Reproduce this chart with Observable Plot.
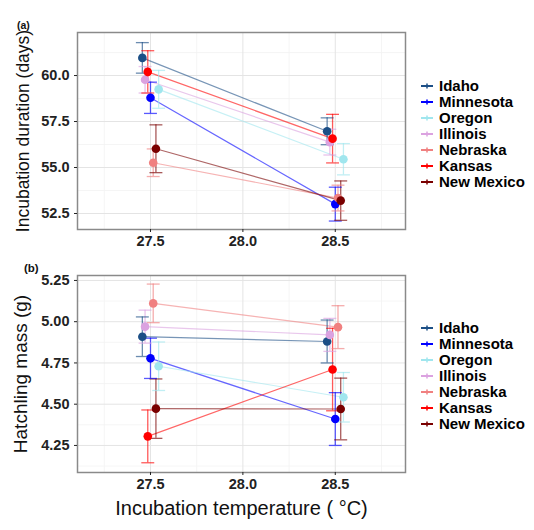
<!DOCTYPE html>
<html><head><meta charset="utf-8">
<script src="https://cdn.jsdelivr.net/npm/d3@7"></script>
<script src="https://cdn.jsdelivr.net/npm/@observablehq/plot@0.6"></script>
<style>
body{margin:0;background:#fff;font-family:Arial,"Liberation Sans",sans-serif;}
#wrap{position:relative;width:534px;height:530px;overflow:hidden;background:#fff}
.panel{position:absolute;left:0}
.item{position:absolute;left:421px;white-space:nowrap;display:flex;align-items:center;font-weight:bold;font-size:15px;color:#000;line-height:16px;transform:translateY(-50%)}
.item svg{margin-right:6px}
.tag{position:absolute;font-weight:bold;color:#111;transform:translateY(-50%)}
</style></head><body><div id="wrap"></div>
<script>
const states = ["Idaho","Minnesota","Oregon","Illinois","Nebraska","Kansas","New Mexico"];
const colors = ["#1c4f86","#0000ff","#a0e6ee","#dba2e0","#f08080","#ff0000","#7a0000"];
const temps = [27.5, 28.5];
// dodge order (alphabetical as in ggplot position_dodge)
const dodgeOrder = ["Idaho","Illinois","Kansas","Minnesota","Nebraska","New Mexico","Oregon"];

// (a) incubation duration (days): mean and error at 27.5 and 28.5
const durMean27 = [60.96, 58.79, 59.25, 59.77, 55.26, 60.20, 56.02];
const durErr27  = [0.83, 0.85, 1.03, 0.72, 0.75, 1.15, 1.30];
const durMean28 = [56.97, 53.01, 55.45, 56.38, 53.34, 56.57, 53.20];
const durErr28  = [0.73, 0.92, 0.85, 0.70, 0.70, 1.32, 1.07];

// (b) hatchling mass (g)
const massMean27 = [4.909, 4.778, 4.730, 4.970, 5.111, 4.305, 4.473];
const massErr27  = [0.120, 0.122, 0.147, 0.100, 0.117, 0.160, 0.180];
const massMean28 = [4.880, 4.410, 4.542, 4.920, 4.967, 4.710, 4.471];
const massErr28  = [0.130, 0.160, 0.150, 0.100, 0.130, 0.250, 0.187];

const xTicks = [27.5, 28.0, 28.5];
const xMinor = [27.25, 27.75, 28.25, 28.75];
const durTicks = [52.5, 55.0, 57.5, 60.0];
const durMinor = [53.75, 56.25, 58.75, 61.25];
const massTicks = [4.25, 4.50, 4.75, 5.00, 5.25];
const massMinor = [4.125, 4.375, 4.625, 4.875, 5.125];

const dodgeWidth = 0.0147;
const capHalf = 0.035;

function buildRows(m27, e27, m28, e28) {
  const rows = [];
  states.forEach((s, i) => {
    const off = (dodgeOrder.indexOf(s) - 3) * dodgeWidth;
    rows.push({state: s, x: temps[0] + off, y: m27[i], lo: m27[i] - e27[i], hi: m27[i] + e27[i]});
    rows.push({state: s, x: temps[1] + off, y: m28[i], lo: m28[i] - e28[i], hi: m28[i] + e28[i]});
  });
  return rows;
}

function panel({rows, yDomain, yTicks, yMinor, fmt, ylabel, ylabelSize, ylabelDx, height, mt, mb, xTitle}) {
  const marks = [
    Plot.gridX(xMinor, {stroke: "#f3f3f3", strokeOpacity: 1, strokeWidth: 0.8}),
    Plot.gridY(yMinor, {stroke: "#f3f3f3", strokeOpacity: 1, strokeWidth: 0.8}),
    Plot.gridX(xTicks, {stroke: "#e4e4e4", strokeOpacity: 1, strokeWidth: 1}),
    Plot.gridY(yTicks, {stroke: "#e4e4e4", strokeOpacity: 1, strokeWidth: 1}),
    Plot.line(rows, {x: "x", y: "y", z: "state", stroke: "state", strokeOpacity: 0.6, strokeWidth: 1.2}),
    Plot.ruleX(rows, {x: "x", y1: "lo", y2: "hi", stroke: "state", strokeOpacity: 0.65, strokeWidth: 1.3}),
    Plot.link(rows, {x1: d => d.x - capHalf, x2: d => d.x + capHalf, y1: "hi", y2: "hi", stroke: "state", strokeOpacity: 0.65, strokeWidth: 1.3}),
    Plot.link(rows, {x1: d => d.x - capHalf, x2: d => d.x + capHalf, y1: "lo", y2: "lo", stroke: "state", strokeOpacity: 0.65, strokeWidth: 1.3}),
    Plot.dot(rows, {x: "x", y: "y", fill: "state", r: 4.3}),
    Plot.frame({stroke: "#8a8a8a", strokeWidth: 1.5}),
    Plot.axisX(xTicks, {tickSize: 3, tickPadding: 3, tickFormat: d3.format(".1f"), fontWeight: "bold", fontSize: 14.5, color: "#222", label: null}),
    Plot.axisY(yTicks, {tickSize: 3, tickPadding: 5, tickFormat: fmt, fontWeight: "bold", fontSize: 14.5, color: "#222", label: null}),
    Plot.text([ylabel], {text: d => d, frameAnchor: "left", textAnchor: "middle", lineAnchor: "middle", dx: ylabelDx, rotate: -90, fontSize: ylabelSize, fontWeight: "normal", fill: "#111"})
  ];
  if (xTitle) marks.push(Plot.text([xTitle], {text: d => d, frameAnchor: "bottom", textAnchor: "middle", lineAnchor: "middle", dy: 36, fontSize: 20, fontWeight: "normal", fill: "#111"}));
  return Plot.plot({
    width: 420, height,
    marginLeft: 77, marginRight: 15, marginTop: mt, marginBottom: mb,
    style: {fontFamily: 'Arial, "Liberation Sans", sans-serif', background: "white", overflow: "visible"},
    x: {domain: [27.105, 28.88]},
    y: {domain: yDomain},
    color: {domain: states, range: colors},
    marks
  });
}

const wrap = document.getElementById("wrap");

const pa = panel({
  rows: buildRows(durMean27, durErr27, durMean28, durErr28),
  yDomain: [51.63, 62.34], yTicks: durTicks, yMinor: durMinor, fmt: d3.format(".1f"),
  ylabel: "Incubation duration (days)", ylabelSize: 17.5, ylabelDx: -54,
  height: 250, mt: 32, mb: 21
});
pa.classList.add("panel"); pa.style.top = "0px";
wrap.appendChild(pa);

const pb = panel({
  rows: buildRows(massMean27, massErr27, massMean28, massErr28),
  yDomain: [4.086, 5.28], yTicks: massTicks, yMinor: massMinor, fmt: d3.format(".2f"),
  ylabel: "Hatchling mass (g)", ylabelSize: 19, ylabelDx: -57,
  height: 280, mt: 25, mb: 58, xTitle: "Incubation temperature ( °C)"
});
pb.classList.add("panel"); pb.style.top = "250px";
wrap.appendChild(pb);

function tag(text, left, top, size) {
  const t = document.createElement("div");
  t.className = "tag"; t.textContent = text;
  t.style.left = left + "px"; t.style.top = top + "px"; t.style.fontSize = size + "px";
  wrap.appendChild(t);
}
tag("(a)", 17, 25, 10.5);
tag("(b)", 24, 268, 11.5);

function legend(top0, step) {
  states.forEach((s, i) => {
    const it = document.createElement("div");
    it.className = "item";
    it.style.top = (top0 + i * step) + "px";
    const c = colors[i];
    it.innerHTML = `<svg width="12" height="8"><line x1="0" x2="12" y1="4" y2="4" stroke="${c}" stroke-width="2"/><line x1="6" x2="6" y1="1.5" y2="6.5" stroke="${c}" stroke-width="1.5"/></svg><span>${s}</span>`;
    wrap.appendChild(it);
  });
}
legend(86, 16);
legend(328, 16);
</script></body></html>
